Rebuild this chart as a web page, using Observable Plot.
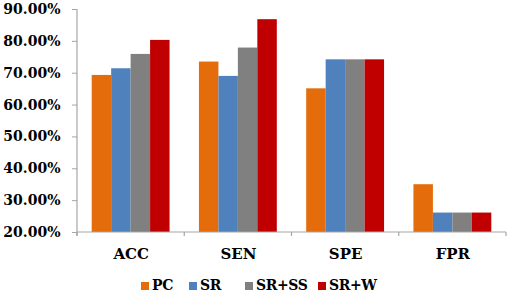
<!DOCTYPE html>
<html><head><meta charset="utf-8">
<script src="https://cdn.jsdelivr.net/npm/d3@7"></script>
<script src="https://cdn.jsdelivr.net/npm/@observablehq/plot@0.6"></script>
<style>
body{margin:0;background:#fff;}
#wrap{position:relative;width:510px;height:294px;font-family:'DejaVu Serif';font-weight:bold;color:#000;}
#legend .item{position:absolute;top:277px;height:16px;font-size:14px;line-height:16px;white-space:nowrap;letter-spacing:-0.4px;}
#legend .sw{position:absolute;top:5px;left:0;width:8px;height:8px;}
#legend .tx{position:absolute;left:11px;top:0;}
</style>
</head><body><div id="wrap"></div>
<script>
const categories = ["ACC", "SEN", "SPE", "FPR"];
const series = ["PC", "SR", "SR+SS", "SR+W"];
const PC   = [69.3, 73.5, 65.1, 35.0];
const SR   = [71.4, 69.0, 74.2, 26.1];
const SRSS = [75.9, 77.9, 74.2, 26.1];
const SRW  = [80.3, 86.8, 74.2, 26.1];
const yTicks = [20, 30, 40, 50, 60, 70, 80, 90];
const colors = ["#E46C0A", "#4F81BD", "#808080", "#C00000"];

const seriesValues = [PC, SR, SRSS, SRW];
const data = [];
categories.forEach((c, i) => series.forEach((s, j) => data.push({cat: c, series: s, value: seriesValues[j][i]})));

const W = 510, mL = 77, mR = 4;
const padInner = 0.274, padOuter = 0.137;
const stepPx = (W - mL - mR) / categories.length;
const gapHalf = stepPx * padInner / 2;

const plot = Plot.plot({
  width: W,
  height: 268,
  marginLeft: mL,
  marginRight: mR,
  marginTop: 9,
  marginBottom: 36,
  style: {fontFamily: "DejaVu Serif", fontWeight: "bold", fontSize: "14px", color: "#000", background: "#fff"},
  fx: {domain: categories, paddingInner: padInner, paddingOuter: padOuter, round: false, label: null, tickSize: 0, tickPadding: 16},
  x: {domain: series, padding: 0, axis: null, round: false},
  y: {domain: [20, 90], label: null},
  color: {domain: series, range: colors},
  marks: [
    Plot.axisY({ticks: yTicks, tickFormat: d => d.toFixed(2) + "%", tickSize: 5, tickPadding: 12, label: null, dx: -gapHalf, stroke: "#a6a6a6", fill: "#000"}),
    Plot.barY(data, {fx: "cat", x: "series", y1: 20, y2: "value", fill: "series", inset: 0}),
  ]
});

// axis lines and category boundary ticks, positioned from the plot's own scales
const svg = d3.select(plot);
const fx = plot.scale("fx"), y = plot.scale("y");
const y0 = y.apply(20), yTop = y.apply(90);
const step = fx.step, bw = fx.bandwidth;
const bounds = categories.map(c => fx.apply(c) - (step - bw) / 2);
bounds.push(fx.apply(categories[categories.length - 1]) + bw + (step - bw) / 2);
const g = svg.append("g").attr("stroke", "#a6a6a6").attr("stroke-width", 1.2);
g.append("line").attr("x1", bounds[0]).attr("x2", bounds[0]).attr("y1", yTop).attr("y2", y0 + 4);
g.append("line").attr("x1", bounds[0]).attr("x2", bounds[bounds.length - 1]).attr("y1", y0).attr("y2", y0);
bounds.forEach(b => g.append("line").attr("x1", b).attr("x2", b).attr("y1", y0).attr("y2", y0 + 4));
svg.selectAll("[aria-label='fx-axis tick label'] text").attr("font-size", 15);

const wrap = document.getElementById("wrap");
wrap.appendChild(plot);
const legend = document.createElement("div");
legend.id = "legend";
const legendLeft = [141, 189, 245, 318];
series.forEach((s, i) => {
  const it = document.createElement("div"); it.className = "item"; it.style.left = legendLeft[i] + "px";
  const sw = document.createElement("div"); sw.className = "sw"; sw.style.background = colors[i];
  const t = document.createElement("span"); t.className = "tx"; t.textContent = s;
  it.appendChild(sw); it.appendChild(t); legend.appendChild(it);
});
wrap.appendChild(legend);
</script>
</body></html>
